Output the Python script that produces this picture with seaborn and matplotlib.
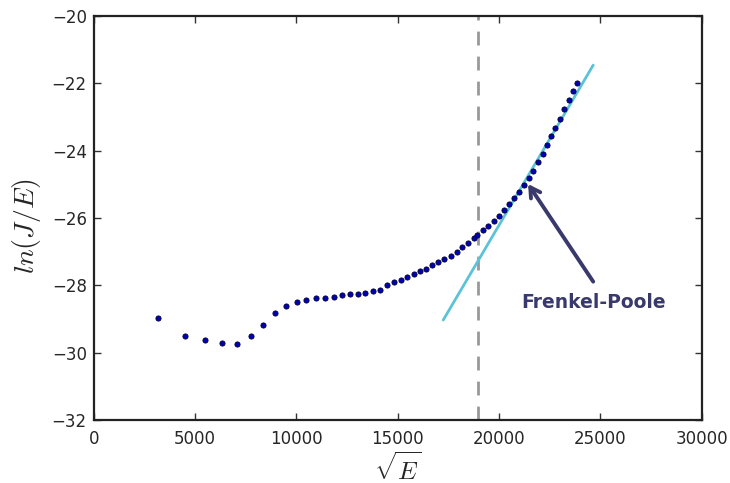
import numpy as np
import pandas as pd
import matplotlib
matplotlib.use("Agg")
import matplotlib.pyplot as plt
import seaborn as sns

# ---- data ----
sqrt_e = [3157, 4489, 5491, 6330, 7070, 7745, 8352, 8929, 9487, 10015,
          10488, 10982, 11411, 11840, 12250, 12644, 13039, 13399, 13779, 14124,
          14484, 14830, 15160, 15471, 15787, 16083, 16394, 16690, 17001, 17296,
          17612, 17908, 18184, 18466, 18747, 18925, 19221, 19467, 19748, 19995,
          20242, 20488, 20720, 20967, 21228, 21460, 21687, 21919, 22151, 22363,
          22560, 22772, 23004, 23202, 23434, 23646, 23858]
ln_j_e = [-28.97, -29.51, -29.61, -29.72, -29.75, -29.50, -29.18, -28.81, -28.60, -28.50,
          -28.43, -28.38, -28.37, -28.35, -28.30, -28.27, -28.25, -28.23, -28.17, -28.13,
          -27.99, -27.90, -27.84, -27.75, -27.67, -27.58, -27.50, -27.40, -27.32, -27.22,
          -27.12, -27.01, -26.87, -26.74, -26.60, -26.50, -26.36, -26.24, -26.08, -25.93,
          -25.76, -25.58, -25.40, -25.22, -25.03, -24.81, -24.59, -24.33, -24.09, -23.83,
          -23.57, -23.32, -23.05, -22.77, -22.50, -22.24, -21.98]
fit_x = [17247, 24647]
fit_y = [-29.03, -21.46]
threshold_x = 18950
arrow_tip = (21432, -24.99)
arrow_tail = (24647, -27.89)
annotation_text = "Frenkel-Poole"
annotation_pos = (24647, -28.5)
x_ticks = [0, 5000, 10000, 15000, 20000, 25000, 30000]
y_ticks = [-32, -30, -28, -26, -24, -22, -20]

sns.set_style("ticks")
plt.rcParams["mathtext.fontset"] = "cm"
plt.rcParams["font.family"] = ["DejaVu Sans"]

fig = plt.figure(figsize=(7.3, 4.83), dpi=100)
ax = fig.add_axes([0.1284, 0.1304, 0.9612 - 0.1284, 0.9669 - 0.1304])

df = pd.DataFrame({"x": sqrt_e, "y": ln_j_e})
fit = pd.DataFrame({"x": fit_x, "y": fit_y})

ax.axvline(threshold_x, color="#999999", lw=2, dashes=(5, 4), zorder=1)
sns.lineplot(data=fit, x="x", y="y", ax=ax, color="#5bc3d9", lw=2, zorder=2)
sns.scatterplot(data=df, x="x", y="y", ax=ax, color="#0000b4", edgecolor="#000030",
                linewidth=0.6, s=14, zorder=3)

ax.annotate("", xy=arrow_tip, xytext=arrow_tail, textcoords="data",
            arrowprops=dict(arrowstyle="->,head_length=0.7,head_width=0.4",
                            color="#393a6b", lw=2.8, shrinkA=0, shrinkB=0),
            zorder=4)
ax.text(annotation_pos[0], annotation_pos[1], annotation_text, ha="center", va="center",
        fontsize=13.5, fontweight="bold", color="#393a6b", zorder=4)

ax.set_xlim(0, 30000)
ax.set_ylim(-32, -20)
ax.set_xticks(x_ticks)
ax.set_yticks(y_ticks)
ax.set_xlabel(r"$\sqrt{E}$", fontsize=18, labelpad=3)
ax.set_ylabel(r"$ln(J/E)$", fontsize=20)
ax.yaxis.set_label_coords(-0.083, 0.48)
ax.tick_params(direction="in", length=5, width=1, top=True, right=True,
               labelsize=12, color="#333333")
ax.tick_params(axis="x", pad=7)
ax.tick_params(axis="y", pad=5)
for s in ax.spines.values():
    s.set_visible(True)
    s.set_linewidth(1.6)
    s.set_color("#222222")

fig.savefig("out.png", dpi=100, facecolor="white")
